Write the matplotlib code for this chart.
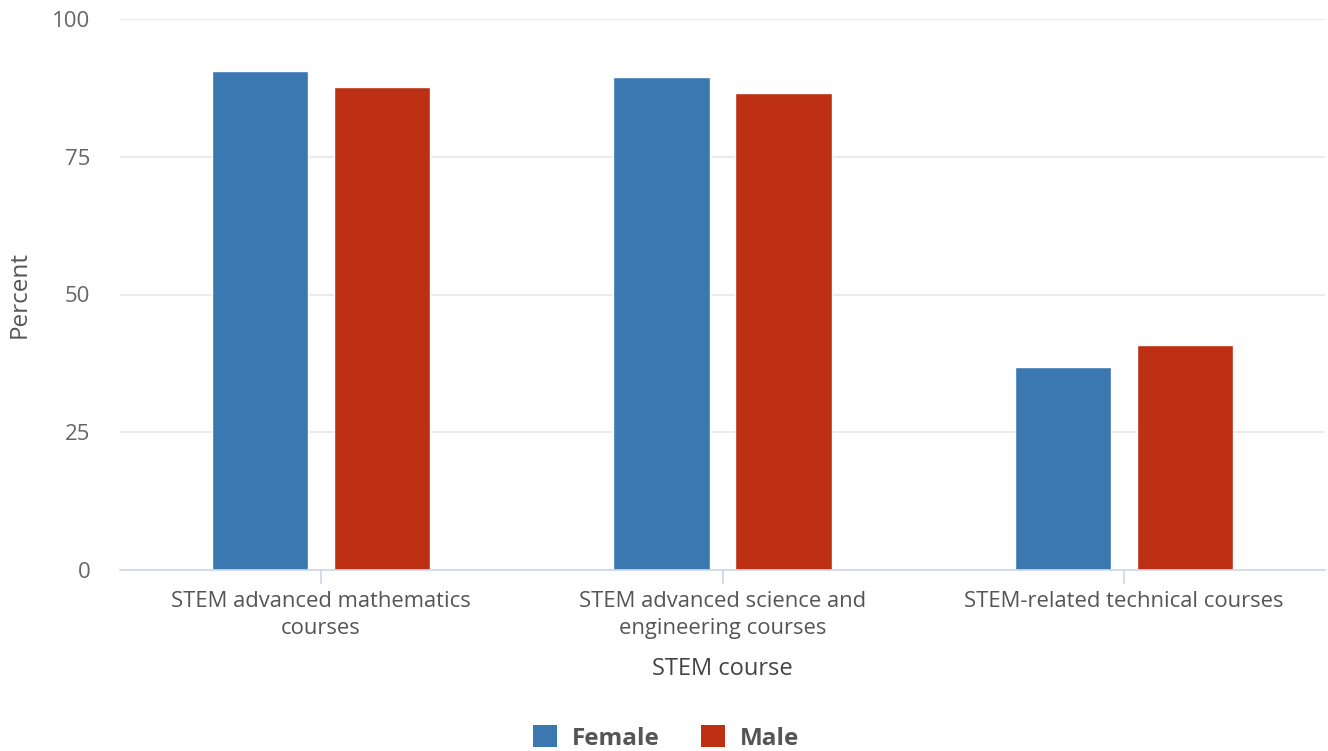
import matplotlib
matplotlib.use("Agg")
import matplotlib.pyplot as plt
import numpy as np
from matplotlib.patches import Patch

categories = ["STEM advanced mathematics\ncourses",
              "STEM advanced science and\nengineering courses",
              "STEM-related technical courses"]
series_names = ["Female", "Male"]
female = [90.6, 89.5, 36.8]
male = [87.7, 86.6, 40.8]
yticks = [0, 25, 50, 75, 100]

colors = ["#3b78b0", "#bd3013"]
plt.rcParams['font.family'] = ['Open Sans', 'DejaVu Sans']

fig = plt.figure(figsize=(13.28, 7.51), dpi=100)
ax = fig.add_axes([120/1328, 1-570/751, 1205/1328, 551/751])

x = np.arange(len(categories))
w = 0.24
off = 0.152
ax.bar(x - off, female, w, color=colors[0], edgecolor="white", linewidth=1, zorder=3)
ax.bar(x + off, male, w, color=colors[1], edgecolor="white", linewidth=1, zorder=3)

ax.set_xlim(-0.5, 2.5)
ax.set_ylim(0, 100)
ax.set_yticks(yticks)
ax.set_yticklabels([str(v) for v in yticks])
ax.yaxis.grid(True, color="#e6e6e6", linewidth=1.2, zorder=0)
ax.set_axisbelow(True)
for s in ["top", "right", "left"]:
    ax.spines[s].set_visible(False)
ax.spines["bottom"].set_color("#ccd6eb")
ax.spines["bottom"].set_linewidth(1.2)
ax.spines["bottom"].set_zorder(4)
ax.tick_params(axis="y", length=0, pad=21.5, labelsize=16, labelcolor="#666666")
ax.tick_params(axis="x", length=10, width=1.2, color="#ccd6eb", pad=5,
               labelsize=15.8, labelcolor="#555555")
ax.set_xticks(x)
ax.set_xticklabels(categories, linespacing=1.4)

ax.set_ylabel("Percent", fontsize=17.5, color="#555555")
ax.yaxis.set_label_coords(-0.073, 0.5)
ax.set_xlabel("STEM course", fontsize=17, color="#444444", labelpad=13)

handles = [Patch(facecolor=colors[0]), Patch(facecolor=colors[1])]
leg = fig.legend(handles, series_names, loc="center", bbox_to_anchor=(666/1328, 1-738/751),
                 ncol=2, frameon=False, handlelength=1.0, handleheight=1.0,
                 handletextpad=0.6, columnspacing=1.7, borderpad=0,
                 prop={"weight": "bold", "size": 17.5})
for t in leg.get_texts():
    t.set_color("#555555")

fig.savefig("out.png", dpi=100)
